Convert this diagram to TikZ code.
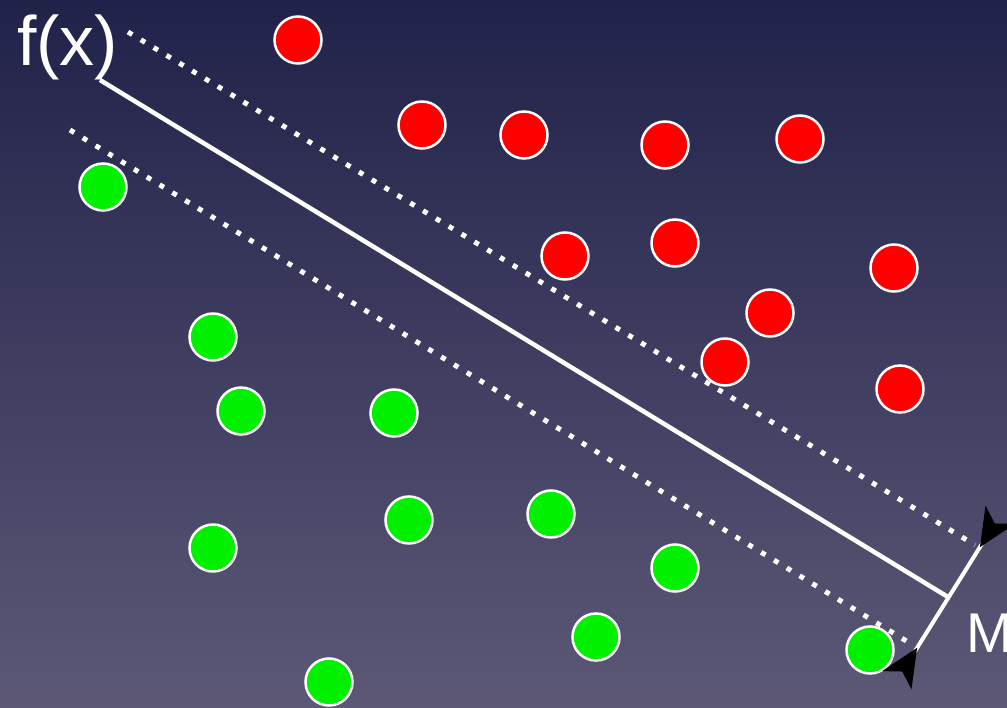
\documentclass[tikz,border=0pt]{standalone}
\usepackage{fontspec}
\setmainfont{Liberation Sans}
\usetikzlibrary{arrows.meta}
\definecolor{bgtop}{RGB}{33,34,74}
\definecolor{bgbot}{RGB}{92,88,118}
\definecolor{redpt}{RGB}{255,0,0}
\definecolor{greenpt}{RGB}{0,240,0}
\tikzset{
  pt/.style={circle, draw=white, line width=2.5pt, minimum size=47pt, inner sep=0pt},
  redp/.style={pt, fill=redpt},
  greenp/.style={pt, fill=greenpt},
  dotline/.style={white, line width=5pt, dash pattern=on 5pt off 10pt},
  solidline/.style={white, line width=4.5pt},
  lbl/.style={text=white, inner sep=0pt},
  mtip/.tip={Stealth[reversed, length=38pt 0, width=34pt 0, inset=10pt 0, black]}
}
\begin{document}
\begin{tikzpicture}[x=1pt,y=-1pt]
\useasboundingbox (0,0) rectangle (1007,708);
\shade[top color=bgtop, bottom color=bgbot] (0,0) rectangle (1007,708);
% lines
\coordinate (s1) at (100,80);
\coordinate (s2) at (948,597);
\coordinate (u1) at (128,32);
\coordinate (u2) at (975,545);
\coordinate (l1) at (70,130);
\coordinate (l2) at (908,642);
\coordinate (m1) at (897,680);
\coordinate (m2) at (1000,515);
\draw[dotline] (u1) -- (u2);
\draw[dotline] (l1) -- (l2);
\draw[solidline] (s1) -- (s2);
% red points
\node[redp] (r1) at (298,40) {};
\node[redp] (r2) at (422,125) {};
\node[redp] (r3) at (524,135) {};
\node[redp] (r4) at (665,145) {};
\node[redp] (r5) at (800,139) {};
\node[redp] (r6) at (565,256) {};
\node[redp] (r7) at (675,243) {};
\node[redp] (r8) at (894,268) {};
\node[redp] (r9) at (770,313) {};
\node[redp] (r10) at (725,362) {};
\node[redp] (r11) at (900,389) {};
% green points
\node[greenp] (g1) at (103,187) {};
\node[greenp] (g2) at (213,337) {};
\node[greenp] (g3) at (241,411) {};
\node[greenp] (g4) at (394,413) {};
\node[greenp] (g5) at (213,548) {};
\node[greenp] (g6) at (409,520) {};
\node[greenp] (g7) at (551,514) {};
\node[greenp] (g8) at (675,568) {};
\node[greenp] (g9) at (596,637) {};
\node[greenp] (g10) at (870,650) {};
\node[greenp] (g11) at (329,682) {};
% margin arrow
\draw[white, line width=4pt, mtip-mtip] (m1) -- (m2);
% labels
\node[lbl, anchor=base west, font=\fontsize{70}{80}\selectfont] (fx) at (17,66) {f(x)};
\node[lbl, anchor=base west, font=\fontsize{56}{64}\selectfont] (M) at (966,652) {M};
\end{tikzpicture}
\end{document}
